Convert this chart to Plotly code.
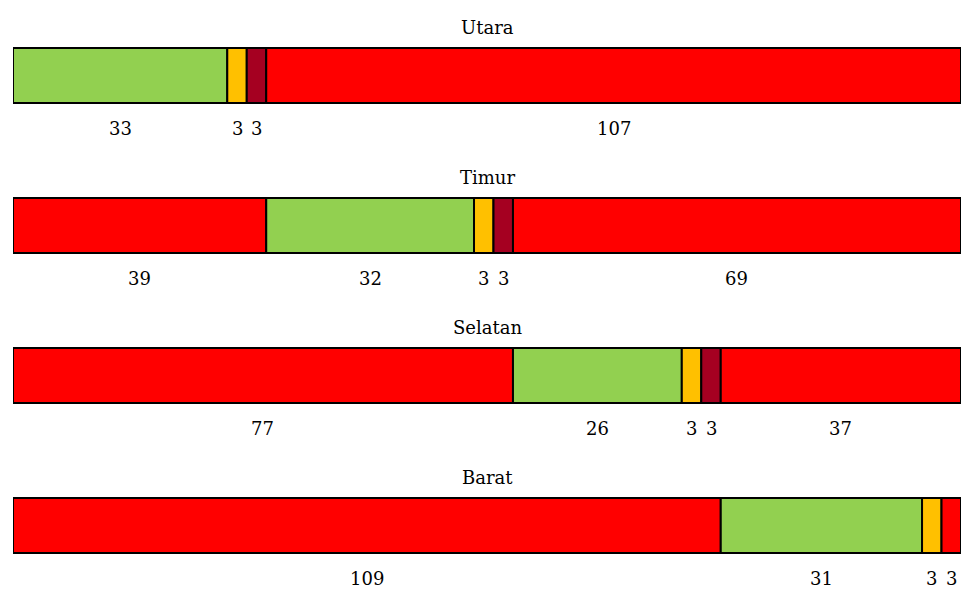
import plotly.graph_objects as go

# Regions, in the order they are stacked from top to bottom
regions = ["Utara", "Timur", "Selatan", "Barat"]

# Segment values (left to right) and their status category for each region
utara_vals = [33, 3, 3, 107]
utara_kinds = ["hijau", "kuning", "merah_tua", "merah"]

timur_vals = [39, 32, 3, 3, 69]
timur_kinds = ["merah", "hijau", "kuning", "merah_tua", "merah"]

selatan_vals = [77, 26, 3, 3, 37]
selatan_kinds = ["merah", "hijau", "kuning", "merah_tua", "merah"]

barat_vals = [109, 31, 3, 3]
barat_kinds = ["merah", "hijau", "kuning", "merah"]

kind_colors = {
    "hijau": "#92D050",
    "kuning": "#FFC000",
    "merah_tua": "#A50021",
    "merah": "#FF0000",
}

rows = [
    (utara_vals, utara_kinds),
    (timur_vals, timur_kinds),
    (selatan_vals, selatan_kinds),
    (barat_vals, barat_kinds),
]

FONT = dict(family="DejaVu Serif", size=18, color="#000000")
BAR_W = 0.367
TITLE_OFF = 0.32
LABEL_OFF = 0.355

fig = go.Figure()
annotations = []
total = max(sum(v) for v, _ in rows)

for i, (name, (vals, kinds)) in enumerate(zip(regions, rows)):
    bases = []
    acc = 0
    for v in vals:
        bases.append(acc)
        acc += v
    fig.add_trace(go.Bar(
        orientation="h",
        y=[i] * len(vals),
        x=vals,
        base=bases,
        width=BAR_W,
        marker=dict(color=[kind_colors[k] for k in kinds],
                    line=dict(color="#000000", width=2)),
        hoverinfo="x",
        showlegend=False,
    ))
    # Region title above the bar
    annotations.append(dict(
        x=total / 2, y=i - TITLE_OFF, xref="x", yref="y",
        text=name, showarrow=False, font=FONT,
        xanchor="center", yanchor="middle",
    ))
    # Value labels centred under each segment
    for b, v in zip(bases, vals):
        annotations.append(dict(
            x=b + v / 2, y=i + LABEL_OFF, xref="x", yref="y",
            text=str(v), showarrow=False, font=FONT,
            xanchor="center", yanchor="middle",
        ))

fig.update_layout(
    width=963, height=590,
    margin=dict(l=13, r=2, t=0, b=0),
    paper_bgcolor="#FFFFFF",
    plot_bgcolor="#FFFFFF",
    barmode="overlay",
    font=FONT,
    annotations=annotations,
    xaxis=dict(range=[0, total], visible=False, showgrid=False, zeroline=False),
    yaxis=dict(range=[3.43, -0.503], visible=False, showgrid=False, zeroline=False),
)

fig.write_html("out.html")
